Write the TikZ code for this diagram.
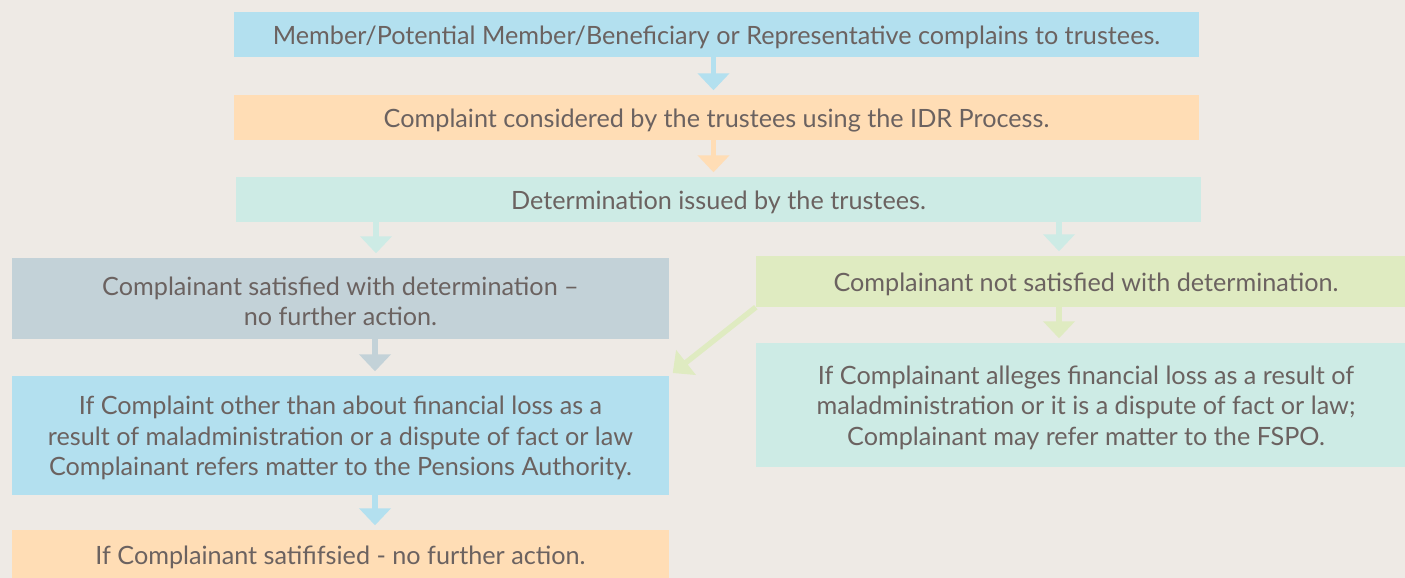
\documentclass[tikz,border=0pt]{standalone}
\usepackage{fontspec}
\setmainfont{Lato}
\usetikzlibrary{arrows.meta}
\definecolor{bgc}{HTML}{EEEAE5}
\definecolor{cblue}{HTML}{B3E0EF}
\definecolor{corange}{HTML}{FFDDB5}
\definecolor{cmint}{HTML}{CDEBE5}
\definecolor{cgrey}{HTML}{C3D2D8}
\definecolor{cgreen}{HTML}{DFEBC1}
\definecolor{ctext}{HTML}{6B6260}
\newcommand\toppad{\rule{0pt}{24pt}}
\tikzset{
  box/.style={rectangle, inner sep=0pt, align=center, text=ctext,
    font=\fontsize{25.2}{30.5}\selectfont},
  arr/.style={line width=5.5pt, -{Triangle[width=31pt,length=17pt]}, shorten >=4.5pt}
}
\begin{document}
\begin{tikzpicture}[x=1pt,y=-1pt]
\fill[bgc] (0,0) rectangle (1405,578);
\useasboundingbox (0,0) rectangle (1405,578);
\clip (0,0) rectangle (1405,578);
\node[box, fill=cblue, minimum width=965pt, minimum height=45pt] (b1) at (716.5,34.5)
  {\toppad Member/Potential Member/Beneficiary or Representative complains to trustees.};
\node[box, fill=corange, minimum width=965pt, minimum height=45pt] (b2) at (716.5,117.5)
  {\toppad Complaint considered by the trustees using the IDR Process.};
\node[box, fill=cmint, minimum width=965pt, minimum height=45pt] (b3) at (718.5,199.5)
  {\toppad Determination issued by the trustees.};
\node[box, fill=cgrey, minimum width=657pt, minimum height=81pt] (b4) at (340.5,298.5)
  {\toppad Complainant satisfied with determination --\\no further action.};
\node[box, fill=cgreen, minimum width=660pt, minimum height=51pt] (b5) at (1086,281.5)
  {\toppad Complainant not satisfied with determination.};
\node[box, fill=cmint, minimum width=660pt, minimum height=124pt] (b6) at (1086,405)
  {\toppad If Complainant alleges financial loss as a result of\\maladministration or it is a dispute of fact or law;\\Complainant may refer matter to the FSPO.};
\node[box, fill=cblue, minimum width=657pt, minimum height=119pt] (b7) at (340.5,435.5)
  {\toppad If Complaint other than about financial loss as a\\result of maladministration or a dispute of fact or law\\Complainant refers matter to the Pensions Authority.};
\node[box, fill=corange, minimum width=657pt, minimum height=50pt] (b8) at (340.5,555)
  {\toppad If Complainant satififsied - no further action.};
\coordinate (xa) at (713.5,0);
\coordinate (xl) at (376,0);
\coordinate (xr) at (1059,0);
\coordinate (xd) at (375,0);
\draw[arr, cblue] (b1.south -| xa) -- (b2.north -| xa);
\draw[arr, corange] (b2.south -| xa) -- (b3.north -| xa);
\draw[arr, cmint] (b3.south -| xl) -- (b4.north -| xl);
\draw[arr, cmint] (b3.south -| xr) -- (b5.north -| xr);
\draw[arr, cgreen] (b5.south -| xr) -- (b6.north -| xr);
\draw[arr, cgrey] (b4.south -| xd) -- (b7.north -| xd);
\draw[arr, cblue] (b7.south -| xd) -- (b8.north -| xd);
\draw[arr, cgreen] (b5.south west) -- (b7.north east);
\end{tikzpicture}
\end{document}
